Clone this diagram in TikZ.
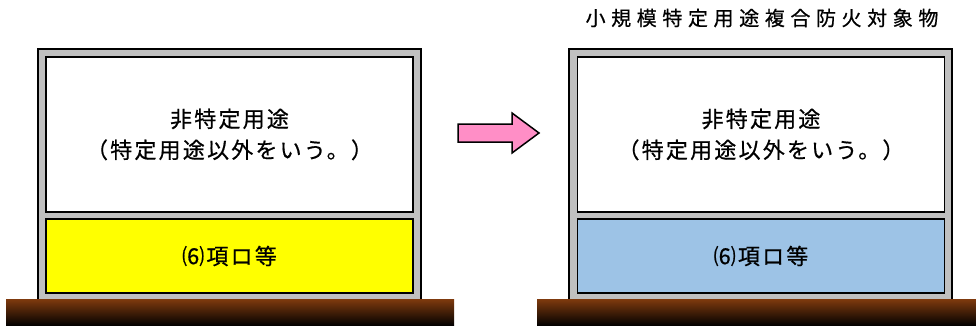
\documentclass[tikz,border=0pt]{standalone}
\usepackage{fontspec}
\setmainfont[LetterSpace=10,FakeBold=0.6]{Noto Sans CJK JP}
\newfontfamily\titlefont[LetterSpace=28,FakeBold=0.6]{Noto Sans CJK JP}
\definecolor{framegray}{HTML}{C0C0C0}
\definecolor{groundbrown}{HTML}{7F3A0E}
\definecolor{lowyellow}{HTML}{FFFF00}
\definecolor{lowblue}{HTML}{9DC3E6}
\definecolor{arrowpink}{HTML}{FF8EC6}
\tikzset{
  >=latex,
}
\tikzstyle{frame}=[draw=black,line width=1.5pt,fill=framegray]
\tikzstyle{room}=[draw=black,line width=1.5pt,minimum width=367pt,inner sep=0pt,align=center,font=\fontsize{22}{31}\selectfont]
\tikzstyle{upper}=[room,fill=white,minimum height=155pt]
\tikzstyle{lower}=[room,minimum height=74pt]
\tikzstyle{ground}=[top color=groundbrown,middle color=groundbrown!75!black,bottom color=black]
\tikzstyle{bigarrow}=[draw=black,line width=1.5pt,fill=arrowpink,line join=miter]

\begin{document}
\begin{tikzpicture}[x=1pt,y=-1pt]
    \useasboundingbox (0,0) rectangle (976,326);
    % title
    \node[font=\titlefont\fontsize{20}{22}\selectfont] (title) at (762,18) {小規模特定用途複合防火対象物};
    % left building
    \draw[frame] (38,49) rectangle (421,305);
    \node[upper] (upL) at (229.5,134.5) {非特定用途\\（特定用途以外をいう。）};
    \node[lower,fill=lowyellow] (lowL) at (229.5,256) {⑹項ロ等};
    \shade[ground] (6,299) rectangle (454,326);
    % arrow
    \draw[bigarrow] (458,124) -- (512,124) -- (512,113) -- (539,133)
      -- (512,153) -- (512,142) -- (458,142) -- cycle;
    % right building
    \draw[frame] (569,49) rectangle (952,305);
    \node[upper] (upR) at (761,134.5) {非特定用途\\（特定用途以外をいう。）};
    \node[lower,fill=lowblue] (lowR) at (761,256) {⑹項ロ等};
    \shade[ground] (537,299) rectangle (976,326);
\end{tikzpicture}
\end{document}
